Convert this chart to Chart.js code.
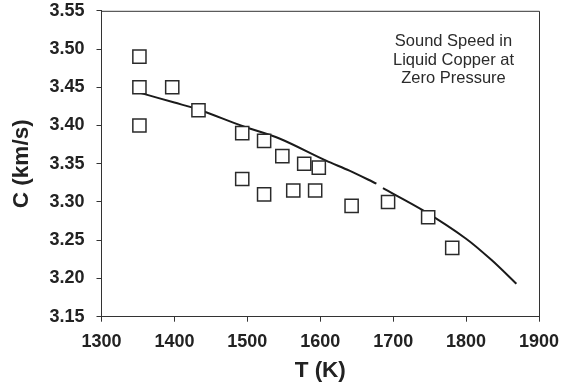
<!DOCTYPE html>
<html>
<head>
<meta charset="utf-8">
<script src="https://cdn.jsdelivr.net/npm/chart.js@4/dist/chart.umd.min.js"></script>
<style>
  html, body { margin: 0; padding: 0; background: #fff; }
  #wrap { width: 564px; height: 387px; }
</style>
</head>
<body>
<div id="wrap"><canvas id="c" width="564" height="387"></canvas></div>
<script>
const measT = [1352, 1352, 1352, 1397, 1433, 1493, 1493, 1523, 1523, 1548, 1563, 1578, 1598, 1593, 1643, 1693, 1748, 1781];
const measC = [3.49, 3.45, 3.40, 3.45, 3.42, 3.39, 3.33, 3.38, 3.31, 3.36, 3.315, 3.35, 3.345, 3.315, 3.295, 3.30, 3.28, 3.24];

// Model curve (null marks the small break in the line)
const curveT = [1352, 1400, 1433, 1494, 1544, 1608, 1640, 1677, 1681, 1686, 1741, 1800, 1835, 1869];
const curveC = [3.443, 3.430, 3.421, 3.399, 3.383, 3.354, 3.341, 3.324, null, 3.318, 3.289, 3.252, 3.224, 3.193];

// Axis ticks
const xMin = 1300, xMax = 1900, xStep = 100;
const yMin = 3.15, yMax = 3.55, yStep = 0.05;

const titleLines = ['Sound Speed in', 'Liquid Copper at', 'Zero Pressure'];
const xTitle = 'T (K)';
const yTitle = 'C (km/s)';

const FONT = '"Liberation Sans", Arial, Helvetica, sans-serif';
const INK = '#222';

const framePlugin = {
  id: 'frame',
  afterDraw(chart) {
    const {ctx, chartArea: a} = chart;
    ctx.save();
    ctx.strokeStyle = '#333';
    ctx.lineWidth = 1;
    ctx.beginPath();
    ctx.moveTo(a.left, a.top + 0.5);
    ctx.lineTo(a.right + 0.5, a.top + 0.5);
    ctx.lineTo(a.right + 0.5, a.bottom);
    ctx.stroke();
    ctx.fillStyle = '#2b2b2b';
    ctx.font = '16.5px ' + FONT;
    ctx.textAlign = 'center';
    ctx.textBaseline = 'middle';
    const cx = 453.5;
    const ys = [41.7, 60, 78.3];
    titleLines.forEach((t, i) => ctx.fillText(t, cx, ys[i]));
    ctx.restore();
  }
};

new Chart(document.getElementById('c'), {
  type: 'scatter',
  data: {
    datasets: [
      {
        type: 'scatter',
        data: measT.map((t, i) => ({x: t, y: measC[i]})),
        pointStyle: 'rect',
        pointRadius: 9.3,
        pointHoverRadius: 9.3,
        backgroundColor: '#fff',
        borderColor: '#2a2a2a',
        borderWidth: 1.5,
        order: 0
      },
      {
        type: 'line',
        data: curveT.map((t, i) => ({x: t, y: curveC[i]})),
        borderColor: '#1a1a1a',
        borderWidth: 2,
        pointRadius: 0,
        fill: false,
        tension: 0.3,
        spanGaps: false,
        order: 1
      }
    ]
  },
  options: {
    responsive: false,
    animation: false,
    devicePixelRatio: 1,
    layout: { padding: 0 },
    plugins: { legend: { display: false }, tooltip: { enabled: false } },
    scales: {
      x: {
        type: 'linear',
        min: xMin, max: xMax,
        ticks: { stepSize: xStep, color: INK, font: { family: FONT, size: 18, weight: 'bold' }, padding: 10, maxRotation: 0, callback: v => String(v) },
        grid: { drawOnChartArea: false, drawTicks: true, tickLength: 5, color: '#333' },
        border: { color: '#333', width: 1 },
        title: { display: true, text: xTitle, color: INK, font: { family: FONT, size: 22.5, weight: 'bold' }, padding: { top: 0, bottom: 3 } },
        afterFit(s) { s.height = 70.3; s.paddingRight = 25; s.paddingLeft = 0; }
      },
      y: {
        type: 'linear',
        min: yMin, max: yMax,
        ticks: { stepSize: yStep, color: INK, font: { family: FONT, size: 18, weight: 'bold' }, padding: 12, callback: v => Number(v).toFixed(2) },
        grid: { drawOnChartArea: false, drawTicks: true, tickLength: 5, color: '#333' },
        border: { color: '#333', width: 1 },
        title: { display: true, text: yTitle, color: INK, font: { family: FONT, size: 22.5, weight: 'bold' }, padding: { top: 8, bottom: 0 } },
        afterFit(s) { s.width = 101.5; s.paddingTop = 10; s.paddingBottom = 0; }
      }
    }
  },
  plugins: [framePlugin]
});
</script>
</body>
</html>
